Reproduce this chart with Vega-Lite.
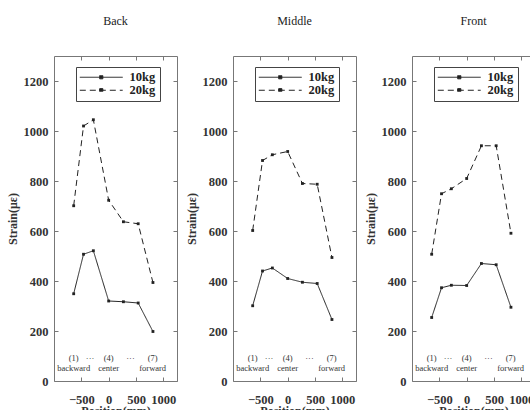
{
  "$schema": "https://vega.github.io/schema/vega-lite/v6.json",
  "padding": {"left": 6, "top": 14, "right": 0, "bottom": 0},
  "bounds": "flush",
  "spacing": 56,
  "background": "white",
  "datasets": {
    "strain": [
      {"panel": "Back", "load": "10kg", "pos": -640, "strain": 349},
      {"panel": "Back", "load": "10kg", "pos": -460, "strain": 507},
      {"panel": "Back", "load": "10kg", "pos": -280, "strain": 521},
      {"panel": "Back", "load": "10kg", "pos": 0, "strain": 320},
      {"panel": "Back", "load": "10kg", "pos": 270, "strain": 317},
      {"panel": "Back", "load": "10kg", "pos": 540, "strain": 312},
      {"panel": "Back", "load": "10kg", "pos": 810, "strain": 198},
      {"panel": "Back", "load": "20kg", "pos": -640, "strain": 701},
      {"panel": "Back", "load": "20kg", "pos": -460, "strain": 1020},
      {"panel": "Back", "load": "20kg", "pos": -280, "strain": 1045},
      {"panel": "Back", "load": "20kg", "pos": 0, "strain": 723},
      {"panel": "Back", "load": "20kg", "pos": 270, "strain": 637},
      {"panel": "Back", "load": "20kg", "pos": 540, "strain": 629},
      {"panel": "Back", "load": "20kg", "pos": 810, "strain": 394},
      {"panel": "Middle", "load": "10kg", "pos": -640, "strain": 301},
      {"panel": "Middle", "load": "10kg", "pos": -460, "strain": 440},
      {"panel": "Middle", "load": "10kg", "pos": -280, "strain": 452},
      {"panel": "Middle", "load": "10kg", "pos": 0, "strain": 410},
      {"panel": "Middle", "load": "10kg", "pos": 270, "strain": 395},
      {"panel": "Middle", "load": "10kg", "pos": 540, "strain": 390},
      {"panel": "Middle", "load": "10kg", "pos": 810, "strain": 246},
      {"panel": "Middle", "load": "20kg", "pos": -640, "strain": 602},
      {"panel": "Middle", "load": "20kg", "pos": -460, "strain": 882},
      {"panel": "Middle", "load": "20kg", "pos": -280, "strain": 905},
      {"panel": "Middle", "load": "20kg", "pos": 0, "strain": 918},
      {"panel": "Middle", "load": "20kg", "pos": 270, "strain": 790},
      {"panel": "Middle", "load": "20kg", "pos": 540, "strain": 787},
      {"panel": "Middle", "load": "20kg", "pos": 810, "strain": 494},
      {"panel": "Front", "load": "10kg", "pos": -640, "strain": 254},
      {"panel": "Front", "load": "10kg", "pos": -460, "strain": 373},
      {"panel": "Front", "load": "10kg", "pos": -280, "strain": 383},
      {"panel": "Front", "load": "10kg", "pos": 0, "strain": 382},
      {"panel": "Front", "load": "10kg", "pos": 270, "strain": 470},
      {"panel": "Front", "load": "10kg", "pos": 540, "strain": 465},
      {"panel": "Front", "load": "10kg", "pos": 810, "strain": 295},
      {"panel": "Front", "load": "20kg", "pos": -640, "strain": 507},
      {"panel": "Front", "load": "20kg", "pos": -460, "strain": 749},
      {"panel": "Front", "load": "20kg", "pos": -280, "strain": 769},
      {"panel": "Front", "load": "20kg", "pos": 0, "strain": 810},
      {"panel": "Front", "load": "20kg", "pos": 270, "strain": 941},
      {"panel": "Front", "load": "20kg", "pos": 540, "strain": 941},
      {"panel": "Front", "load": "20kg", "pos": 810, "strain": 591}
    ],
    "notes": [
      {"pos": -640, "strain": 91, "t": "(1)"},
      {"pos": -340, "strain": 93, "t": "···"},
      {"pos": 0, "strain": 91, "t": "(4)"},
      {"pos": 400, "strain": 93, "t": "···"},
      {"pos": 805, "strain": 91, "t": "(7)"},
      {"pos": -640, "strain": 52, "t": "backward"},
      {"pos": 0, "strain": 52, "t": "center"},
      {"pos": 805, "strain": 52, "t": "forward"}
    ]
  },
  "config": {
    "view": {"stroke": null},
    "title": {"font": "Liberation Serif", "fontSize": 12, "fontWeight": "normal", "color": "#222", "offset": 28},
    "axis": {
      "grid": false,
      "labelFont": "Liberation Serif", "labelFontWeight": "bold", "labelFontSize": 12.5, "labelColor": "#333",
      "titleFont": "Liberation Serif", "titleFontWeight": "bold", "titleFontSize": 12, "titleColor": "#333",
      "domainColor": "#777", "tickColor": "#777", "tickSize": -4, "domainWidth": 1, "tickWidth": 1,
      "format": "d"
    },
    "legend": {
      "labelFont": "Liberation Serif", "labelFontWeight": "bold", "labelFontSize": 12.5, "labelColor": "#222"
    }
  },
  "resolve": {"scale": {"strokeDash": "independent"}, "legend": {"strokeDash": "independent"}},
  "hconcat": [
    {
      "title": "Back", "width": 123, "height": 325,
      "layer": [
        {
          "data": {"name": "strain"},
          "transform": [{"filter": "datum.panel === 'Back'"}],
          "mark": {"type": "line", "color": "#222", "strokeWidth": 1},
          "encoding": {
            "x": {"field": "pos", "type": "quantitative", "scale": {"domain": [-1000, 1250], "nice": false, "zero": false},
                  "axis": {"orient": "bottom", "title": "Position(mm)", "values": [-500, 0, 500, 1000], "labelPadding": 16, "titlePadding": 0}},
            "y": {"field": "strain", "type": "quantitative", "scale": {"domain": [0, 1300], "nice": false},
                  "axis": {"orient": "left", "title": "Strain(με)", "values": [0, 200, 400, 600, 800, 1000, 1200], "labelPadding": 10, "titlePadding": 4}},
            "strokeDash": {"field": "load", "type": "nominal", "scale": {"domain": ["10kg", "20kg"], "range": [[1, 0], [6, 4]]},
              "legend": {"orient": "none", "legendX": 22, "legendY": 11, "title": null, "symbolType": "M-4,0H4M-0.3,-0.3H0.3V0.3H-0.3Z", "symbolSize": 115, "symbolStrokeColor": "#222", "symbolFillColor": "#222", "symbolStrokeWidth": 1, "symbolOffset": 15, "labelOffset": 22, "padding": 4, "rowPadding": 0, "strokeColor": "#444", "fillColor": "white"}}
          }
        },
        {
          "data": {"name": "strain"},
          "transform": [{"filter": "datum.panel === 'Back'"}],
          "mark": {"type": "point", "shape": "square", "filled": true, "size": 8, "color": "#222", "opacity": 1},
          "encoding": {
            "x": {"field": "pos", "type": "quantitative", "axis": {"orient": "top", "labels": false, "title": null, "values": [-500, 0, 500, 1000]}},
            "y": {"field": "strain", "type": "quantitative", "axis": {"orient": "right", "labels": false, "title": null, "values": [0, 200, 400, 600, 800, 1000, 1200]}}
          }
        },
        {
          "data": {"name": "notes"},
          "mark": {"type": "text", "font": "Liberation Serif", "fontSize": 8.5, "fill": "#333", "baseline": "middle"},
          "encoding": {
            "x": {"field": "pos", "type": "quantitative", "axis": null},
            "y": {"field": "strain", "type": "quantitative", "axis": null},
            "text": {"field": "t"}
          }
        }
      ],
      "resolve": {"axis": {"x": "independent", "y": "independent"}}
    },
    {
      "title": "Middle", "width": 123, "height": 325,
      "layer": [
        {
          "data": {"name": "strain"},
          "transform": [{"filter": "datum.panel === 'Middle'"}],
          "mark": {"type": "line", "color": "#222", "strokeWidth": 1},
          "encoding": {
            "x": {"field": "pos", "type": "quantitative", "scale": {"domain": [-1000, 1250], "nice": false, "zero": false},
                  "axis": {"orient": "bottom", "title": "Position(mm)", "values": [-500, 0, 500, 1000], "labelPadding": 16, "titlePadding": 0}},
            "y": {"field": "strain", "type": "quantitative", "scale": {"domain": [0, 1300], "nice": false},
                  "axis": {"orient": "left", "title": "Strain(με)", "values": [0, 200, 400, 600, 800, 1000, 1200], "labelPadding": 10, "titlePadding": 4}},
            "strokeDash": {"field": "load", "type": "nominal", "scale": {"domain": ["10kg", "20kg"], "range": [[1, 0], [6, 4]]},
              "legend": {"orient": "none", "legendX": 22, "legendY": 11, "title": null, "symbolType": "M-4,0H4M-0.3,-0.3H0.3V0.3H-0.3Z", "symbolSize": 115, "symbolStrokeColor": "#222", "symbolFillColor": "#222", "symbolStrokeWidth": 1, "symbolOffset": 15, "labelOffset": 22, "padding": 4, "rowPadding": 0, "strokeColor": "#444", "fillColor": "white"}}
          }
        },
        {
          "data": {"name": "strain"},
          "transform": [{"filter": "datum.panel === 'Middle'"}],
          "mark": {"type": "point", "shape": "square", "filled": true, "size": 8, "color": "#222", "opacity": 1},
          "encoding": {
            "x": {"field": "pos", "type": "quantitative", "axis": {"orient": "top", "labels": false, "title": null, "values": [-500, 0, 500, 1000]}},
            "y": {"field": "strain", "type": "quantitative", "axis": {"orient": "right", "labels": false, "title": null, "values": [0, 200, 400, 600, 800, 1000, 1200]}}
          }
        },
        {
          "data": {"name": "notes"},
          "mark": {"type": "text", "font": "Liberation Serif", "fontSize": 8.5, "fill": "#333", "baseline": "middle"},
          "encoding": {
            "x": {"field": "pos", "type": "quantitative", "axis": null},
            "y": {"field": "strain", "type": "quantitative", "axis": null},
            "text": {"field": "t"}
          }
        }
      ],
      "resolve": {"axis": {"x": "independent", "y": "independent"}}
    },
    {
      "title": "Front", "width": 123, "height": 325,
      "layer": [
        {
          "data": {"name": "strain"},
          "transform": [{"filter": "datum.panel === 'Front'"}],
          "mark": {"type": "line", "color": "#222", "strokeWidth": 1},
          "encoding": {
            "x": {"field": "pos", "type": "quantitative", "scale": {"domain": [-1000, 1250], "nice": false, "zero": false},
                  "axis": {"orient": "bottom", "title": "Position(mm)", "values": [-500, 0, 500, 1000], "labelPadding": 16, "titlePadding": 0}},
            "y": {"field": "strain", "type": "quantitative", "scale": {"domain": [0, 1300], "nice": false},
                  "axis": {"orient": "left", "title": "Strain(με)", "values": [0, 200, 400, 600, 800, 1000, 1200], "labelPadding": 10, "titlePadding": 4}},
            "strokeDash": {"field": "load", "type": "nominal", "scale": {"domain": ["10kg", "20kg"], "range": [[1, 0], [6, 4]]},
              "legend": {"orient": "none", "legendX": 22, "legendY": 11, "title": null, "symbolType": "M-4,0H4M-0.3,-0.3H0.3V0.3H-0.3Z", "symbolSize": 115, "symbolStrokeColor": "#222", "symbolFillColor": "#222", "symbolStrokeWidth": 1, "symbolOffset": 15, "labelOffset": 22, "padding": 4, "rowPadding": 0, "strokeColor": "#444", "fillColor": "white"}}
          }
        },
        {
          "data": {"name": "strain"},
          "transform": [{"filter": "datum.panel === 'Front'"}],
          "mark": {"type": "point", "shape": "square", "filled": true, "size": 8, "color": "#222", "opacity": 1},
          "encoding": {
            "x": {"field": "pos", "type": "quantitative", "axis": {"orient": "top", "labels": false, "title": null, "values": [-500, 0, 500, 1000]}},
            "y": {"field": "strain", "type": "quantitative", "axis": {"orient": "right", "labels": false, "title": null, "values": [0, 200, 400, 600, 800, 1000, 1200]}}
          }
        },
        {
          "data": {"name": "notes"},
          "mark": {"type": "text", "font": "Liberation Serif", "fontSize": 8.5, "fill": "#333", "baseline": "middle"},
          "encoding": {
            "x": {"field": "pos", "type": "quantitative", "axis": null},
            "y": {"field": "strain", "type": "quantitative", "axis": null},
            "text": {"field": "t"}
          }
        }
      ],
      "resolve": {"axis": {"x": "independent", "y": "independent"}}
    }
  ]
}
